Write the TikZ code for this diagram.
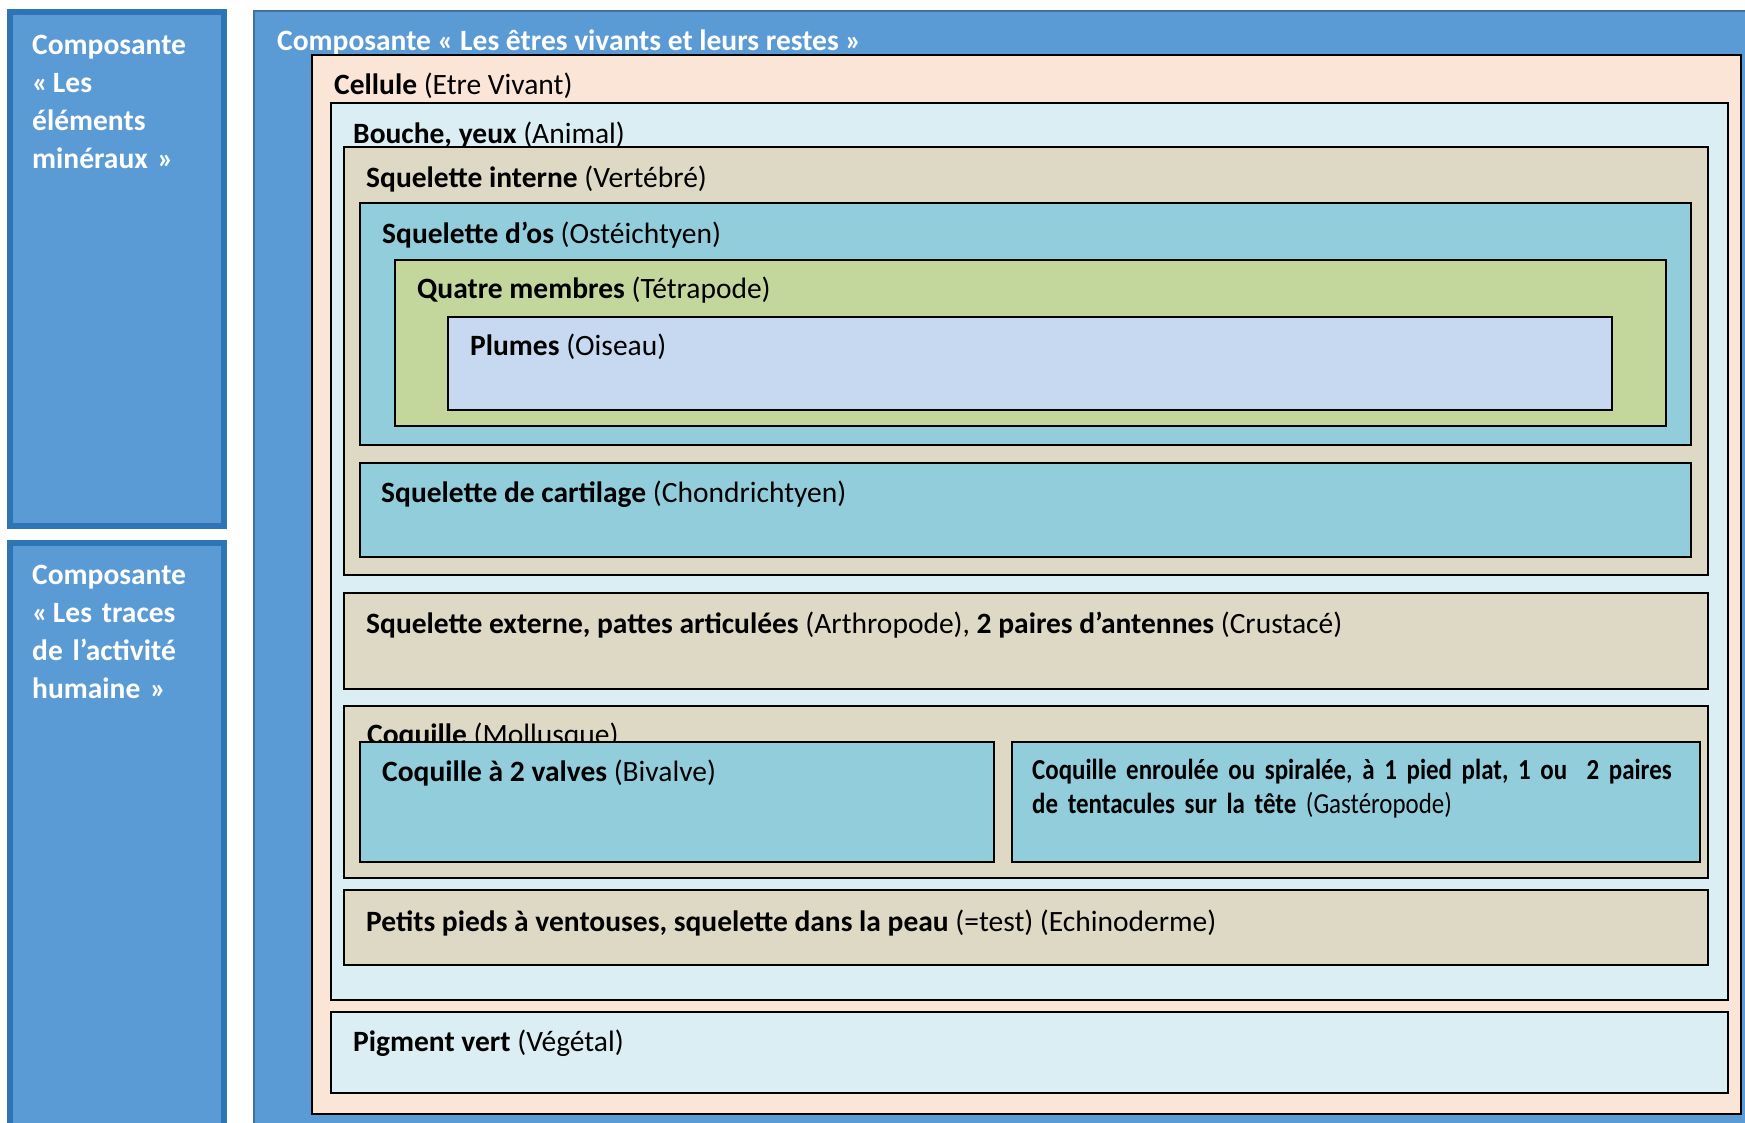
\documentclass[tikz,border=0pt]{standalone}
\usepackage{fontspec}
\setmainfont{Carlito}
\newfontfamily\narrowfont[FakeStretch=0.86, WordSpace=0.75]{Carlito}

\definecolor{compblue}{HTML}{5B9BD5}
\definecolor{compedge}{HTML}{2E75B6}
\definecolor{bigedge}{HTML}{41719C}
\definecolor{cellpeach}{HTML}{FBE5D6}
\definecolor{animalcyan}{HTML}{DAEEF3}
\definecolor{skeltan}{HTML}{DDD9C4}
\definecolor{fishblue}{HTML}{92CDDC}
\definecolor{limbgreen}{HTML}{C3D69B}
\definecolor{featherblue}{HTML}{C6D9F1}

\tikzset{
  comp/.style={draw=compedge, line width=6pt, fill=compblue},
  box/.style={draw=black, line width=2.4pt},
  lbl/.style={anchor=base west, inner sep=0pt, font=\fontsize{29.5}{36}\selectfont},
  complbl/.style={anchor=base west, inner sep=0pt, text=white, text width=190pt,
    align=left, font=\bfseries\fontsize{29.5}{38.3}\selectfont},
}

\begin{document}
\begin{tikzpicture}[x=1pt, y=-1pt]
      \fill [white] (0,0) rectangle (1745,1122);
      \clip (0,0) rectangle (1745,1122);

      % the three components
      \draw [comp] (10,11.5) rectangle (224,526);
      \draw [comp] (10,542.5) rectangle (224,1140);
      \draw [draw=bigedge, line width=2pt, fill=compblue] (254,11) rectangle (1760,1140);

      \node [complbl] (mineral) at (32,54)
            {Composante\\«\,Les\\éléments\\minéraux »};
      \node [complbl] (traces) at (32,584)
            {Composante\\«\,Les traces\\de l’activité\\humaine »};
      \node [lbl, text=white, font=\bfseries\fontsize{29.5}{36}\selectfont] (vivants) at (277,50)
            {Composante « Les êtres vivants et leurs restes »};

      % nested groups
      \foreach \xa/\ya/\xb/\yb/\col in
            {312/55/1741/1114/cellpeach,
             331/103/1728/1000/animalcyan, 331/1012/1728/1093/animalcyan,
             344/147/1708/575/skeltan,
             360/203/1691/445/fishblue,
             395/260/1666/426/limbgreen,
             448/317/1612/410/featherblue,
             360/463/1691/557/fishblue,
             344/593/1708/689/skeltan,
             344/706/1708/878/skeltan,
             344/890/1708/965/skeltan}{\draw [box, fill=\col] (\xa,\ya) rectangle (\xb,\yb);}

      \node [lbl] (cellule) at (334,94) {\textbf{Cellule} (Etre Vivant)};
      \node [lbl] (animal) at (353,143) {\textbf{Bouche, yeux} (Animal)};
      \node [lbl] (vertebre) at (366,187) {\textbf{Squelette interne} (Vertébré)};
      \node [lbl] (osteich) at (382,243) {\textbf{Squelette d’os} (Ostéichtyen)};
      \node [lbl] (tetrapode) at (417,298) {\textbf{Quatre membres} (Tétrapode)};
      \node [lbl] (oiseau) at (470,355) {\textbf{Plumes} (Oiseau)};
      \node [lbl] (chondrich) at (381,502) {\textbf{Squelette de cartilage} (Chondrichtyen)};
      \node [lbl] (arthropode) at (366,633)
            {\textbf{Squelette externe, pattes articulées} (Arthropode), \textbf{2 paires d’antennes} (Crustacé)};
      \node [lbl] (mollusque) at (367,744) {\textbf{Coquille} (Mollusque)};
      \node [lbl] (echino) at (366,931)
            {\textbf{Petits pieds à ventouses, squelette dans la peau} (=test) (Echinoderme)};
      \node [lbl] (vegetal) at (353,1051) {\textbf{Pigment vert} (Végétal)};

      % shells drawn over the mollusc label
      \draw [box, fill=fishblue] (360,742) rectangle (994,862);
      \draw [box, fill=fishblue] (1012,742) rectangle (1700,862);
      \node [lbl] (bivalve) at (382,781) {\textbf{Coquille à 2 valves} (Bivalve)};
      \node [lbl, text width=660pt, align=left, font=\narrowfont\fontsize{29}{34.5}\selectfont] (gastero) at (1032,779)
            {\textbf{Coquille enroulée ou spiralée, à 1 pied plat, 1 ou~ 2 paires}\\
             \textbf{de tentacules sur la tête} (Gastéropode)};
\end{tikzpicture}
\end{document}
